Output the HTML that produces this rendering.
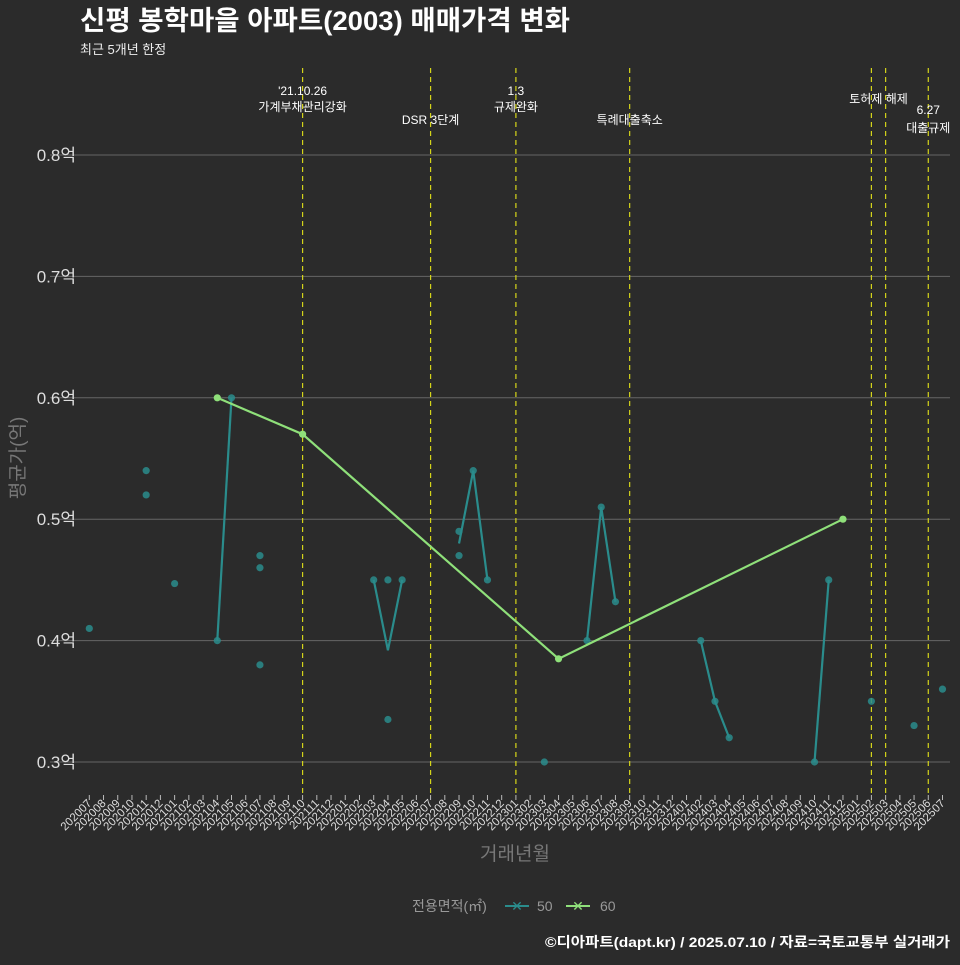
<!DOCTYPE html>
<html><head><meta charset="utf-8"><style>
body{margin:0;background:#2b2b2b;}
svg text{font-family:"Liberation Sans","Noto Sans CJK KR",sans-serif;}
</style></head><body>
<svg width="960" height="960" viewBox="0 0 960 960" xmlns="http://www.w3.org/2000/svg">
<rect width="960" height="960" fill="#2b2b2b"/>
<text x="80" y="30" font-size="27" font-weight="bold" fill="#ffffff" textLength="490" lengthAdjust="spacingAndGlyphs">신평 봉학마을 아파트(2003) 매매가격 변화</text>
<text x="80" y="54" font-size="13" fill="#eeeeee">최근 5개년 한정</text>
<g id="grid"></g><g id="xaxis"></g><g id="events"></g><g id="series"></g>
<text x="24" y="458" font-size="19" fill="#777" text-anchor="middle" transform="rotate(-90 24 458)">평균가(억)</text>
<text x="515" y="860" font-size="19" fill="#777" text-anchor="middle">거래년월</text>
<g>
<text x="412" y="911" font-size="14" fill="#999">전용면적(㎡)</text>
<g><line x1="505" y1="906" x2="529" y2="906" stroke="#2a8c8c" stroke-width="2"/><text x="517" y="911" font-size="14" fill="#2a8c8c" text-anchor="middle">✕</text><text x="537" y="911" font-size="14" fill="#999">50</text></g>
<g><line x1="566" y1="906" x2="590" y2="906" stroke="#8fe07a" stroke-width="2"/><text x="578" y="911" font-size="14" fill="#8fe07a" text-anchor="middle">✕</text><text x="600" y="911" font-size="14" fill="#999">60</text></g>
</g>
<text x="950" y="947" font-size="14" font-weight="bold" fill="#fff" text-anchor="end" textLength="405" lengthAdjust="spacingAndGlyphs">©디아파트(dapt.kr) / 2025.07.10 / 자료=국토교통부 실거래가</text>
</svg>
<script>
const yTicks=[0.3,0.4,0.5,0.6,0.7,0.8];
const eventMonths=[15,24,30,38,55,56,59];
const eventLabels=[["'21.10.26","가계부채관리강화"],["DSR 3단계"],["1.3","규제완화"],["특례대출축소"],["토허제 해제"],[""],["6.27","대출규제"]];
const eventLabelY=[[95,111],[124],[95,111],[124],[103],[0],[114,132]];
const pts50Month=[0,4,4,6,9,10,12,12,12,20,21,21,22,26,26,27,28,32,35,36,37,43,44,45,51,52,55,58,60];
const pts50Value=[0.41,0.54,0.52,0.447,0.40,0.60,0.47,0.46,0.38,0.45,0.45,0.335,0.45,0.49,0.47,0.54,0.45,0.30,0.40,0.51,0.432,0.40,0.35,0.32,0.30,0.45,0.35,0.33,0.36];
const lines50Month=[[9,10],[20,21,22],[26,27,28],[35,36,37],[43,44,45],[51,52]];
const lines50Value=[[0.40,0.60],[0.45,0.392,0.45],[0.48,0.54,0.45],[0.40,0.51,0.432],[0.40,0.35,0.32],[0.30,0.45]];
const s60Month=[9,15,33,53];
const s60Value=[0.60,0.57,0.385,0.50];
const NS="http://www.w3.org/2000/svg";
const X=i=>89.3+i*14.22;
const Y=v=>762-(v-0.3)*1214;
function mk(p,t,a){const e=document.createElementNS(NS,t);for(const k in a)e.setAttribute(k,a[k]);p.appendChild(e);return e;}
const grid=document.getElementById('grid');
yTicks.forEach(v=>{
 const l=mk(grid,'line',{x1:50,x2:950,y1:Y(v),y2:Y(v),stroke:'#666','stroke-width':1});
 
 
 const t=mk(grid,'text',{x:76,y:Y(v)+6,'font-size':17,fill:'#ddd','text-anchor':'end'});
 t.textContent=v.toFixed(1)+'억';
 
 
});
const xa=document.getElementById('xaxis');
for(let i=0;i<=60;i++){
 const y=2020+Math.floor((i+6)/12),m=(i+6)%12+1;
 const lab=y+String(m).padStart(2,'0');
 const x=X(i);
 const tk=mk(xa,'line',{x1:x,x2:x,y1:795,y2:800,stroke:'#bbb'});
 
 
 const t=mk(xa,'text',{x:x+3,y:804,'font-size':11.5,fill:'#ddd','text-anchor':'end',transform:`rotate(-45 ${x+3} 804)`});
 t.textContent=lab;
 
 
}
const ev=document.getElementById('events');
eventMonths.forEach((mo,k)=>{
 const x=X(mo);
 const l=mk(ev,'line',{x1:x,x2:x,y1:68,y2:795,stroke:'#d4d41a','stroke-width':1.2,'stroke-dasharray':'5,4'});
 
 
 eventLabels[k].forEach((s,j)=>{
  if(!s)return;
  const cx=k===4?x+0.5*14.22:x;
  const t=mk(ev,'text',{x:cx,y:eventLabelY[k][j],'font-size':12,fill:'#fff','text-anchor':'middle'});
  t.textContent=s;
  
  
 });
});
const sg=document.getElementById('series');
lines50Month.forEach((ms,k)=>{
 const p=mk(sg,'polyline',{points:ms.map((m,j)=>X(m)+','+Y(lines50Value[k][j])).join(' '),fill:'none',stroke:'#2a8c8c','stroke-width':2.2});
 
 
});
pts50Month.forEach((m,k)=>{
 const c=mk(sg,'circle',{cx:X(m),cy:Y(pts50Value[k]),r:3.6,fill:'#2a8c8c','fill-opacity':0.85});
 
 
});
const gl=mk(sg,'polyline',{points:s60Month.map((m,j)=>X(m)+','+Y(s60Value[j])).join(' '),fill:'none',stroke:'#8fe07a','stroke-width':2.2});


s60Month.forEach((m,k)=>{
 const c=mk(sg,'circle',{cx:X(m),cy:Y(s60Value[k]),r:3.6,fill:'#8fe07a'});
 
 
});
</script>
</body></html>
